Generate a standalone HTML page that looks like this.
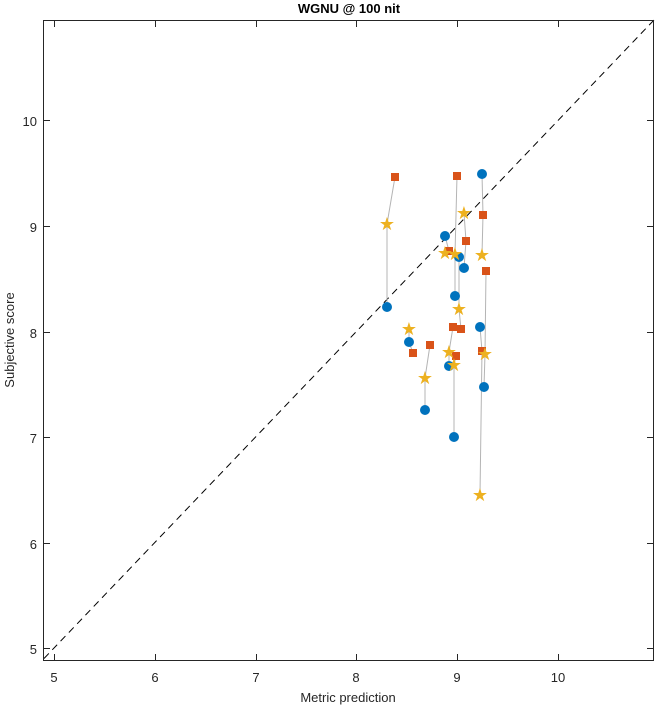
<!DOCTYPE html>
<html><head><style>body{margin:0;background:#fff}svg{display:block}</style></head><body>
<svg width="656" height="708" xmlns="http://www.w3.org/2000/svg" font-family="Liberation Sans, sans-serif">
<rect width="656" height="708" fill="#fff"/>
<text x="349" y="13" font-size="13" font-weight="bold" text-anchor="middle" fill="#000">WGNU @ 100 nit</text>
<line x1="44" y1="658.5" x2="654" y2="20" stroke="#000" stroke-dasharray="7,5" stroke-width="1"/>
<g stroke="#b4b4b4" stroke-width="1" fill="none">
<polyline points="387,307 387,224 395,177"/>
<polyline points="482,174 483,215 482,255"/>
<polyline points="457,176 455,254 455,296"/>
<polyline points="464,213 466,241 464,268"/>
<polyline points="445,236 449,251 455,254"/>
<polyline points="486,271 485,354 484,387"/>
<polyline points="459,257 459,309 461,329"/>
<polyline points="409,329 409,342 413,353"/>
<polyline points="430,345 425,378 425,410"/>
<polyline points="453,327 449,352 449,366"/>
<polyline points="456,356 454,365 454,437"/>
<polyline points="480,327 482,351 480,495"/>
</g>
<g fill="#0072bd">
<circle cx="387" cy="307" r="5"/><circle cx="482" cy="174" r="5"/><circle cx="445" cy="236" r="5"/><circle cx="459" cy="257" r="5"/><circle cx="464" cy="268" r="5"/><circle cx="455" cy="296" r="5"/><circle cx="480" cy="327" r="5"/><circle cx="409" cy="342" r="5"/><circle cx="449" cy="366" r="5"/><circle cx="484" cy="387" r="5"/><circle cx="425" cy="410" r="5"/><circle cx="454" cy="437" r="5"/>
</g>
<g fill="#d95319">
<rect x="391" y="173" width="8" height="8"/><rect x="453" y="172" width="8" height="8"/><rect x="479" y="211" width="8" height="8"/><rect x="462" y="237" width="8" height="8"/><rect x="445" y="247" width="8" height="8"/><rect x="482" y="267" width="8" height="8"/><rect x="449" y="323" width="8" height="8"/><rect x="457" y="325" width="8" height="8"/><rect x="409" y="349" width="8" height="8"/><rect x="426" y="341" width="8" height="8"/><rect x="452" y="352" width="8" height="8"/><rect x="478" y="347" width="8" height="8"/>
</g>
<g fill="#edb120" font-size="18" text-anchor="middle">
<text x="387" y="230">★</text><text x="464" y="219">★</text><text x="445" y="259">★</text><text x="455" y="260">★</text><text x="482" y="261">★</text><text x="459" y="315">★</text><text x="409" y="335">★</text><text x="449" y="358">★</text><text x="454" y="371">★</text><text x="485" y="360">★</text><text x="425" y="384">★</text><text x="480" y="501">★</text>
</g>
<rect x="43.5" y="20.5" width="610" height="640" fill="none" stroke="#262626" stroke-width="1"/>
<g stroke="#262626" stroke-width="1">
<line x1="54.5" y1="660" x2="54.5" y2="654"/><line x1="155.5" y1="660" x2="155.5" y2="654"/><line x1="256.5" y1="660" x2="256.5" y2="654"/><line x1="356.5" y1="660" x2="356.5" y2="654"/><line x1="457.5" y1="660" x2="457.5" y2="654"/><line x1="558.5" y1="660" x2="558.5" y2="654"/>
<line x1="54.5" y1="21" x2="54.5" y2="27"/><line x1="155.5" y1="21" x2="155.5" y2="27"/><line x1="256.5" y1="21" x2="256.5" y2="27"/><line x1="356.5" y1="21" x2="356.5" y2="27"/><line x1="457.5" y1="21" x2="457.5" y2="27"/><line x1="558.5" y1="21" x2="558.5" y2="27"/>
<line x1="44" y1="648.5" x2="50" y2="648.5"/><line x1="44" y1="543.5" x2="50" y2="543.5"/><line x1="44" y1="437.5" x2="50" y2="437.5"/><line x1="44" y1="332.5" x2="50" y2="332.5"/><line x1="44" y1="226.5" x2="50" y2="226.5"/><line x1="44" y1="120.5" x2="50" y2="120.5"/>
<line x1="653" y1="648.5" x2="647" y2="648.5"/><line x1="653" y1="543.5" x2="647" y2="543.5"/><line x1="653" y1="437.5" x2="647" y2="437.5"/><line x1="653" y1="332.5" x2="647" y2="332.5"/><line x1="653" y1="226.5" x2="647" y2="226.5"/><line x1="653" y1="120.5" x2="647" y2="120.5"/>
</g>
<g font-size="13" fill="#262626" text-anchor="middle">
<text x="54" y="682">5</text><text x="155" y="682">6</text><text x="256" y="682">7</text><text x="356" y="682">8</text><text x="457" y="682">9</text><text x="558" y="682">10</text>
</g>
<g font-size="13" fill="#262626" text-anchor="end">
<text x="37" y="654">5</text><text x="37" y="549">6</text><text x="37" y="443">7</text><text x="37" y="338">8</text><text x="37" y="232">9</text><text x="37" y="126">10</text>
</g>
<text x="348" y="702" font-size="13" text-anchor="middle" fill="#262626">Metric prediction</text>
<text transform="translate(14,340) rotate(-90)" font-size="13" text-anchor="middle" fill="#262626">Subjective score</text>
</svg>
</body></html>
